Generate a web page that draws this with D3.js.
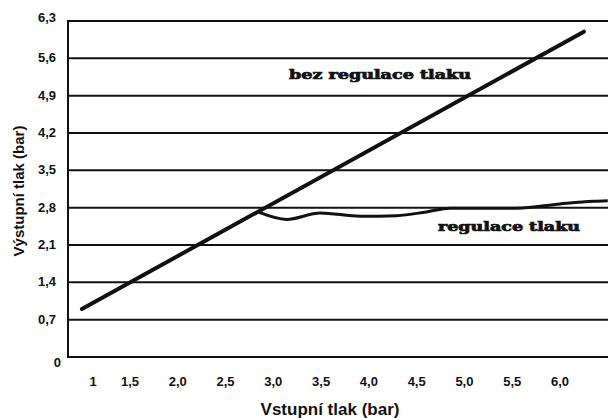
<!DOCTYPE html>
<html>
<head>
<meta charset="utf-8">
<script src="https://cdn.jsdelivr.net/npm/d3@7"></script>
<style>
  body { margin: 0; background: #fff; }
  svg { display: block; }
</style>
</head>
<body>
<svg id="chart" width="608" height="418"></svg>
<script>
// values
const yTicks = [0, 0.7, 1.4, 2.1, 2.8, 3.5, 4.2, 4.9, 5.6, 6.3];
const yLabels = ['0', '0,7', '1,4', '2,1', '2,8', '3,5', '4,2', '4,9', '5,6', '6,3'];
const xTicks = [1, 1.5, 2, 2.5, 3, 3.5, 4, 4.5, 5, 5.5, 6];
const xLabels = ['1', '1,5', '2,0', '2,5', '3,0', '3,5', '4,0', '4,5', '5,0', '5,5', '6,0'];

// vstupní tlak / výstupní tlak
const unregulated = [[0.85, 0.9], [6.25, 6.1]];
const regulated = [
  [2.84, 2.72], [3.14, 2.58], [3.49, 2.70], [3.91, 2.64], [4.29, 2.65],
  [4.60, 2.72], [4.85, 2.79], [5.55, 2.79], [6.0, 2.87], [6.35, 2.92], [6.5, 2.93]
];

const svg = d3.select('#chart');
const plotLeft = 68, plotTop = 21, plotBottom = 357, plotRight = 608;

// the source chart spaces its ticks unevenly, so x is a polylinear scale
const x = d3.scaleLinear().domain([1, 1.5, 6]).range([93, 130, 560]);
const y = d3.scaleLinear().domain([0, 6.3]).range([plotBottom, plotTop]);

// horizontal grid lines
svg.append('g').selectAll('line').data(yTicks).enter()
  .append('line')
  .attr('x1', plotLeft).attr('x2', plotRight)
  .attr('y1', (d) => y(d)).attr('y2', (d) => y(d))
  .attr('stroke', '#111').attr('stroke-width', 2);

// left frame
svg.append('line')
  .attr('x1', plotLeft).attr('x2', plotLeft)
  .attr('y1', y(6.3) - 1).attr('y2', y(0) + 1)
  .attr('stroke', '#111').attr('stroke-width', 2);

// y tick labels
svg.append('g').selectAll('text').data(yTicks).enter()
  .append('text')
  .attr('x', (d) => d === 0 ? 61 : 56)
  .attr('y', (d) => y(d) + (d === 0 ? 10 : d === 6.3 ? 1 : 4))
  .attr('text-anchor', 'end')
  .attr('font-family', 'Liberation Sans, Arial, sans-serif')
  .attr('font-weight', 'bold')
  .attr('font-size', '13px')
  .attr('fill', '#111')
  .text((d, i) => yLabels[i]);

// x tick labels
svg.append('g').selectAll('text').data(xTicks).enter()
  .append('text')
  .attr('x', (d) => x(d))
  .attr('y', 386)
  .attr('text-anchor', 'middle')
  .attr('font-family', 'Liberation Sans, Arial, sans-serif')
  .attr('font-weight', 'bold')
  .attr('font-size', '13px')
  .attr('fill', '#111')
  .text((d, i) => xLabels[i]);

// axis titles
svg.append('text')
  .attr('x', 330).attr('y', 415)
  .attr('text-anchor', 'middle')
  .attr('font-family', 'Liberation Sans, Arial, sans-serif')
  .attr('font-weight', 'bold')
  .attr('font-size', '17px')
  .attr('fill', '#111')
  .text('Vstupní tlak (bar)');

svg.append('text')
  .attr('transform', 'translate(24,191) rotate(-90)')
  .attr('text-anchor', 'middle')
  .attr('font-family', 'Liberation Sans, Arial, sans-serif')
  .attr('font-weight', 'bold')
  .attr('font-size', '15px')
  .attr('fill', '#111')
  .text('Výstupní tlak (bar)');

const line = d3.line()
  .x((d) => x(d[0]))
  .y((d) => y(d[1]))
  .curve(d3.curveMonotoneX);

svg.append('path')
  .datum(unregulated)
  .attr('d', d3.line().x((d) => x(d[0])).y((d) => y(d[1])))
  .attr('fill', 'none')
  .attr('stroke', '#111')
  .attr('stroke-width', 4)
  .attr('stroke-linecap', 'round');

svg.append('path')
  .datum(regulated)
  .attr('d', line)
  .attr('fill', 'none')
  .attr('stroke', '#111')
  .attr('stroke-width', 3);

// line labels (heavy display face in the original)
svg.append('text')
  .attr('x', 289).attr('y', 79)
  .attr('font-family', 'DejaVu Serif, serif')
  .attr('font-weight', 'bold')
  .attr('font-size', '12px')
  .attr('textLength', 182)
  .attr('lengthAdjust', 'spacingAndGlyphs')
  .attr('fill', '#111')
  .attr('stroke', '#111')
  .attr('stroke-width', 0.7)
  .text('bez regulace tlaku');

svg.append('text')
  .attr('x', 438).attr('y', 231)
  .attr('font-family', 'DejaVu Serif, serif')
  .attr('font-weight', 'bold')
  .attr('font-size', '12px')
  .attr('textLength', 142)
  .attr('lengthAdjust', 'spacingAndGlyphs')
  .attr('fill', '#111')
  .attr('stroke', '#111')
  .attr('stroke-width', 0.7)
  .text('regulace tlaku');
</script>
</body>
</html>
